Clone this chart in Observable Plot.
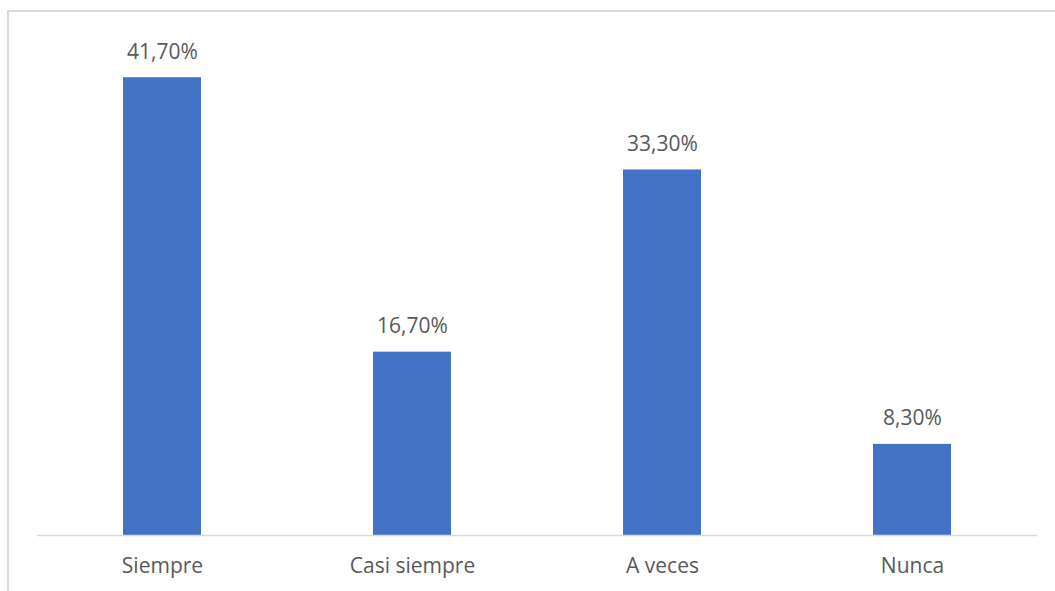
<!DOCTYPE html>
<html>
<head>
<meta charset="utf-8">
<script src="https://cdn.jsdelivr.net/npm/d3@7"></script>
<script src="https://cdn.jsdelivr.net/npm/@observablehq/plot@0.6"></script>
<style>
  html, body { margin: 0; padding: 0; background: #fff; overflow: hidden; }
  #wrap { position: relative; width: 1055px; height: 591px; }
  #frame {
    position: absolute; left: 7px; top: 10px; width: 1100px; height: 700px;
    border-left: 2px solid #d9d9d9; border-top: 2px solid #d9d9d9;
    box-sizing: border-box; pointer-events: none;
  }
  #chart svg { display: block; }
</style>
</head>
<body>
<div id="wrap">
  <div id="chart"></div>
  <div id="frame"></div>
</div>
<script>
// Frecuencia de respuesta por categoría (%)
const categories = ["Siempre", "Casi siempre", "A veces", "Nunca"];
const values = [41.7, 16.7, 33.3, 8.3];

const data = categories.map((c, i) => ({ category: c, value: values[i] }));
const fmt = v => v.toFixed(2).replace(".", ",") + "%";
const font = "'Open Sans', 'Segoe UI', sans-serif";

const chart = Plot.plot({
  width: 1055,
  height: 591,
  marginLeft: 37,
  marginRight: 18,
  marginTop: 41,
  marginBottom: 56,
  style: { fontFamily: font, fontSize: "21px", color: "#595959", background: "transparent" },
  x: { domain: categories, paddingInner: 0.688, paddingOuter: 0.344, label: null },
  y: { domain: [0, 45], axis: null },
  marks: [
    Plot.barY(data, { x: "category", y: "value", fill: "#4472C4" }),
    Plot.ruleY([0], { stroke: "#d9d9d9", strokeWidth: 1.5 }),
    Plot.text(data, {
      x: "category", y: "value", text: d => fmt(d.value),
      lineAnchor: "bottom", dy: -19, fill: "#595959", fontSize: 21
    }),
    Plot.axisX({ tickSize: 0, tickPadding: 23, fontSize: 21, color: "#595959", label: null })
  ]
});
document.getElementById("chart").appendChild(chart);
</script>
</body>
</html>
